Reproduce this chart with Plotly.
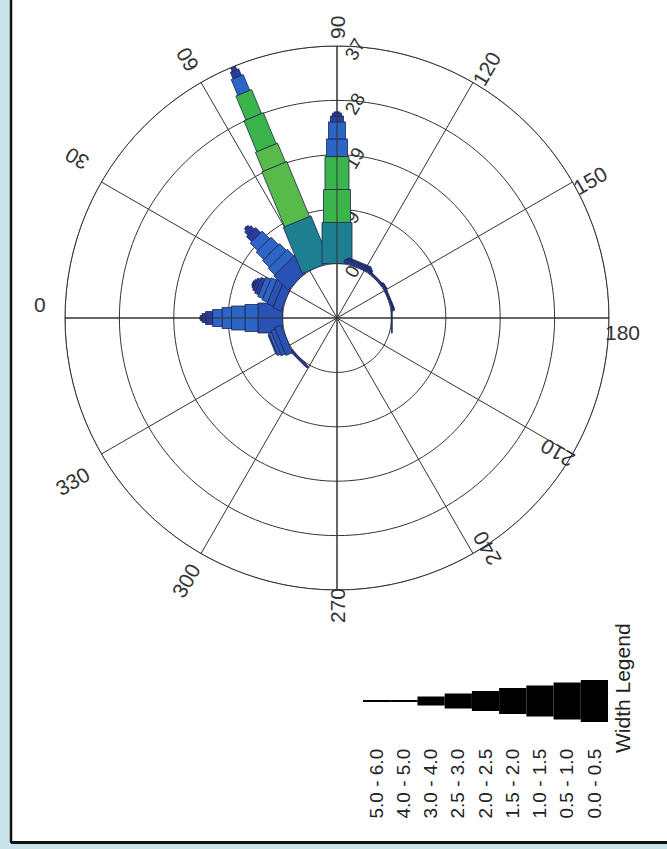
import math
import plotly.graph_objects as go

# ---- data -------------------------------------------------------------
speed_classes = ["0.0 - 0.5", "0.5 - 1.0", "1.0 - 1.5", "1.5 - 2.0", "2.0 - 2.5",
                 "2.5 - 3.0", "3.0 - 4.0", "4.0 - 5.0", "5.0 - 6.0"]

# frequency (%) per speed class, stacked outward, for each direction sector
freq_000 = [4.2, 2.2, 2.3, 1.6, 1.6, 1.2, 0.6, 0.3, 0.1]
freq_022 = [1.5, 1.2, 1.0, 0.9, 0.7, 0.5, 0.3, 0.2]
freq_045 = [3.4, 1.6, 1.6, 1.8, 1.8, 1.2, 0.8, 0.4, 0.1]
freq_067 = [8.5, 10.1, 3.5, 5.7, 4.4, 2.9, 1.2, 0.6]
freq_090 = [7.0, 5.6, 5.6, 3.0, 2.9, 1.0, 0.5, 0.2]
freq_112 = [0.5, 0.3, 0.2]
freq_135 = [0.3, 0.1]
freq_157 = [0.3, 0.1]
freq_180 = [0.15]
freq_315 = [0.3, 0.1]
freq_337 = [1.2, 0.8, 0.5, 0.2]

sector_angles = [0, 22.5, 45, 67.5, 90, 112.5, 135, 157.5, 180, 315, 337.5]

radial_ticks = [0, 9.25, 18.5, 27.75, 37]
radial_labels = ["0", "9", "19", "28", "37"]
angle_labels = [0, 30, 60, 90, 120, 150, 180, 210, 240, 270, 300, 330]

# ---- styles -----------------------------------------------------------
TEAL, GREEN, LGREEN = "#1e7f90", "#3bb44c", "#58ba48"
BLUE, DBLUE, NAVY = "#2d65c6", "#2a52b4", "#2b3c9c"

color_000 = [DBLUE, BLUE, BLUE, BLUE, BLUE, NAVY, NAVY, NAVY, NAVY]
color_022 = [DBLUE, DBLUE, BLUE, BLUE, NAVY, NAVY, NAVY, NAVY]
color_045 = [DBLUE, BLUE, BLUE, BLUE, BLUE, NAVY, NAVY, NAVY, NAVY]
color_067 = [TEAL, LGREEN, LGREEN, GREEN, GREEN, BLUE, NAVY, NAVY]
color_090 = [TEAL, GREEN, GREEN, BLUE, BLUE, NAVY, NAVY, NAVY]
color_small = [NAVY] * 4
color_337 = [DBLUE, DBLUE, BLUE, NAVY]

# drawn width of each speed class (px) in the rose and in the width legend
class_width_px = [30, 27, 24, 21, 17, 13, 9, 5, 2]
legend_width_px = [42, 37, 31, 26, 20, 15, 9, 2, 1]

# placement of the direction labels: distance out along the spoke and
# sideways shift (px), one pair per label in angle_labels
label_along = [297, 305, 298, 290, 291, 288, 285, 258, 274, 288, 303, 311]
label_side = [13, 8, 0, 0, 5, 8, 14, 7, -15, 0, -1, -9]

W, H = 667, 849
CX, CY, RPX = 337, 318, 272          # polar frame centre / radius (px)
R_MIN, R_MAX = -9.25, 37.0           # radial range: 0 sits on the calm circle
LABEL_PULL_PX = 11                   # radial tick labels sit centred on their ring
FONT = "Liberation Sans, Arial, sans-serif"
INK = "#333333"

sectors = [
    (sector_angles[0], freq_000, color_000),
    (sector_angles[1], freq_022, color_022),
    (sector_angles[2], freq_045, color_045),
    (sector_angles[3], freq_067, color_067),
    (sector_angles[4], freq_090, color_090),
    (sector_angles[5], freq_112, color_small),
    (sector_angles[6], freq_135, color_small),
    (sector_angles[7], freq_157, color_small),
    (sector_angles[8], freq_180, color_small),
    (sector_angles[9], freq_315, color_small),
    (sector_angles[10], freq_337, color_337),
]

unit_per_px = (R_MAX - R_MIN) / RPX


def segment_outline(theta, r0, r1, width_px):
    """Corners of a straight-sided bar segment expressed in polar coordinates."""
    h = width_px / 2 * unit_per_px
    d0, d1 = r0 - R_MIN, r1 - R_MIN
    rr, tt = [], []
    for d, s in [(d0, 1), (d1, 1), (d1, -1), (d0, -1), (d0, 1)]:
        rr.append(math.hypot(d, h) + R_MIN)
        tt.append(theta + s * math.degrees(math.atan2(h, d)))
    return rr, tt


fig = go.Figure()

# frequency rings (drawn first so the bars sit on top of them)
ring_theta = [t * 2 for t in range(181)]
for rv in radial_ticks:
    fig.add_trace(go.Scatterpolar(
        r=[rv] * len(ring_theta), theta=ring_theta, mode="lines",
        line=dict(color=INK, width=1), hoverinfo="skip", showlegend=False))

for theta, freqs, colors in sectors:
    base = 0.0
    for k, f in enumerate(freqs):
        rr, tt = segment_outline(theta, base, base + f, class_width_px[k])
        fig.add_trace(go.Scatterpolar(
            r=rr, theta=tt, mode="lines", fill="toself",
            fillcolor=colors[k], line=dict(color="#1d2550", width=0.8),
            hoverinfo="skip", showlegend=False))
        base += f

# main cross lines drawn over the bars
for a in (0, 90):
    fig.add_trace(go.Scatterpolar(
        r=[R_MAX, R_MIN, R_MAX], theta=[a, a, a + 180], mode="lines",
        line=dict(color=INK, width=1), hoverinfo="skip", showlegend=False))

# ---- width legend -----------------------------------------------------
order = list(range(len(speed_classes)))[::-1]
lx = list(range(len(order)))
lh = [legend_width_px[k] for k in order]
fig.add_trace(go.Bar(
    x=lx, y=lh, base=[-v / 2 for v in lh], width=1.0,
    marker=dict(color="black", line=dict(width=0)),
    xaxis="x2", yaxis="y2", hoverinfo="skip", showlegend=False))

# ---- layout -----------------------------------------------------------
dom_x = [(CX - RPX) / W, (CX + RPX) / W]
dom_y = [1 - (CY + RPX) / H, 1 - (CY - RPX) / H]
label_pos = [v - LABEL_PULL_PX * unit_per_px for v in radial_ticks]

leg_top, leg_mid, leg_bot = 658, 701, 744
fig.update_layout(
    width=W, height=H, margin=dict(l=0, r=0, t=0, b=0),
    paper_bgcolor="white", plot_bgcolor="white",
    font=dict(family=FONT, color=INK),
    showlegend=False,
    polar=dict(
        domain=dict(x=dom_x, y=dom_y),
        bgcolor="white",
        angularaxis=dict(rotation=180, direction="clockwise", dtick=30,
                         showticklabels=False, ticks="", showline=True,
                         linecolor=INK, linewidth=1, gridcolor=INK, gridwidth=1,
                         layer="below traces"),
        radialaxis=dict(range=[R_MIN, R_MAX], tickvals=label_pos,
                        ticktext=radial_labels, angle=90, side="clockwise",
                        tickangle=30, ticks="", showline=False, showgrid=False,
                        tickfont=dict(size=19, color=INK, family=FONT),
                        layer="below traces"),
    ),
    xaxis2=dict(domain=[363 / W, 608 / W], anchor="y2", range=[-0.5, 8.5],
                tickvals=lx, ticktext=[speed_classes[k] for k in order],
                tickangle=-90, showgrid=False, zeroline=False, showline=False,
                ticks="", tickfont=dict(size=19, color="#222", family=FONT)),
    yaxis2=dict(domain=[1 - leg_bot / H, 1 - leg_top / H], anchor="x2",
                range=[-(leg_bot - leg_mid), leg_mid - leg_top], visible=False),
)

# angular labels, oriented along their spoke
annotations = []
for i, a in enumerate(angle_labels):
    rot = a - 180 if 0 < a <= 180 else (a - 360 if a > 180 else 0)
    phi = math.radians(180 - a)
    ux, uy = math.cos(phi), -math.sin(phi)
    nx, ny = -uy, ux
    px = CX + label_along[i] * ux + label_side[i] * nx
    py = CY + label_along[i] * uy + label_side[i] * ny
    annotations.append(dict(x=px / W, y=1 - py / H, xref="paper", yref="paper",
                            xanchor="center", yanchor="middle",
                            text=str(a), showarrow=False, textangle=rot,
                            font=dict(size=21, color=INK, family=FONT)))

annotations.append(dict(x=622 / W, y=1 - 688 / H, xref="paper", yref="paper",
                        xanchor="center", yanchor="middle",
                        text="Width Legend", showarrow=False, textangle=-90,
                        font=dict(size=21, color="#222", family=FONT)))
fig.update_layout(annotations=annotations)

# page frame: light blue margin strips with a dark rule
fig.update_layout(shapes=[
    dict(type="rect", xref="paper", yref="paper", x0=0, x1=9.5 / W, y0=0, y1=1,
         fillcolor="#c8e4ea", line=dict(width=0), layer="below"),
    dict(type="rect", xref="paper", yref="paper", x0=0, x1=1, y0=0, y1=5 / H,
         fillcolor="#c8e4ea", line=dict(width=0), layer="below"),
    dict(type="line", xref="paper", yref="paper", x0=11 / W, x1=11 / W,
         y0=1 - 843 / H, y1=1, line=dict(color="#111", width=2.5)),
    dict(type="line", xref="paper", yref="paper", x0=11 / W, x1=1,
         y0=1 - 842.5 / H, y1=1 - 842.5 / H, line=dict(color="#111", width=3)),
])

fig.write_html("out.html")
